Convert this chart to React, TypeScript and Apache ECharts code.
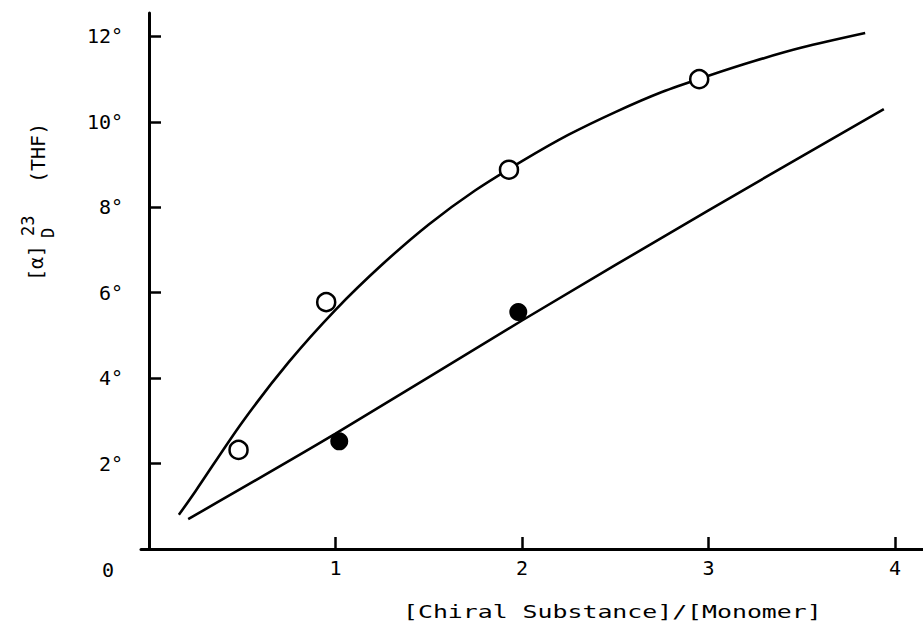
import React, { useEffect, useRef } from "react";
import * as echarts from "echarts";

// Open circles (measured points)
const openX = [0.48, 0.95, 1.93, 2.95];
const openY = [2.32, 5.78, 8.88, 11.0];
// Filled circles (measured points)
const filledX = [1.02, 1.98];
const filledY = [2.52, 5.55];
// Upper fitted curve
const upperCurveX = [0.16, 0.25, 0.5, 0.75, 1.0, 1.25, 1.5, 1.75, 2.0, 2.25, 2.5, 2.75, 3.0, 3.25, 3.5, 3.84];
const upperCurveY = [0.8, 1.36, 2.97, 4.38, 5.6, 6.66, 7.6, 8.4, 9.08, 9.7, 10.23, 10.7, 11.08, 11.43, 11.74, 12.08];
// Lower fitted line
const lowerCurveX = [0.21, 1.0, 2.0, 3.0, 3.94];
const lowerCurveY = [0.7, 2.7, 5.35, 7.93, 10.3];
// Axis ticks
const xTicks = [1, 2, 3, 4];
const yTicks = [2, 4, 6, 8, 10, 12];

const FONT = "'DejaVu Sans Mono', 'Liberation Mono', monospace";

const pairs = (xs: number[], ys: number[]) => xs.map((x, i) => [x, ys[i]]);

export default function App() {
  const ref = useRef<HTMLDivElement>(null);
  useEffect(() => {
    if (!ref.current) return;
    const chart = echarts.init(ref.current, null, { renderer: "svg" });
    chart.setOption({
      animation: false,
      backgroundColor: "#ffffff",
      grid: { left: 141, right: 0, top: 13, bottom: 85, containLabel: false },
      xAxis: {
        type: "value",
        min: -0.043,
        max: 4.15,
        axisLine: { show: true, lineStyle: { color: "#000", width: 3 } },
        axisTick: { show: true, inside: true, length: 12, lineStyle: { color: "#000", width: 2.5 }, customValues: xTicks },
        axisLabel: { customValues: xTicks, color: "#000", fontFamily: FONT, fontSize: 20, margin: 9 },
        splitLine: { show: false },
      },
      yAxis: {
        type: "value",
        min: 0,
        max: 12.55,
        axisLine: { show: true, lineStyle: { color: "#000", width: 3 } },
        axisTick: { show: true, inside: true, length: 12, lineStyle: { color: "#000", width: 2.5 }, customValues: yTicks },
        axisLabel: {
          customValues: yTicks,
          color: "#000",
          fontFamily: FONT,
          fontSize: 20,
          margin: 18,
          formatter: (v: number) => v + "°",
        },
        splitLine: { show: false },
      },
      graphic: [
        { type: "text", left: 102, top: 560, style: { text: "0", font: `20px ${FONT}`, fill: "#000" } },
        {
          type: "text",
          x: 403,
          y: 603,
          scaleX: 1.38,
          style: { text: "[Chiral Substance]/[Monomer]", font: `18px ${FONT}`, fill: "#000" },
        },
        {
          type: "group",
          x: 47,
          y: 281,
          rotation: Math.PI / 2,
          children: [
            { type: "text", x: 0, y: -11, style: { text: "[α]", font: `20px ${FONT}`, fill: "#000", verticalAlign: "middle", align: "left" } },
            { type: "text", x: 43, y: 1, style: { text: "D", font: `17px ${FONT}`, fill: "#000", verticalAlign: "middle", align: "left" } },
            { type: "text", x: 45, y: -19, style: { text: "23", font: `17px ${FONT}`, fill: "#000", verticalAlign: "middle", align: "left" } },
            { type: "text", x: 98, y: -9, style: { text: "(THF)", font: `20px ${FONT}`, fill: "#000", verticalAlign: "middle", align: "left" } },
          ],
        },
      ],
      series: [
        {
          type: "line",
          smooth: 0.3,
          symbol: "none",
          data: pairs(upperCurveX, upperCurveY),
          lineStyle: { color: "#000", width: 2.6 },
          z: 2,
        },
        {
          type: "line",
          smooth: 0.3,
          symbol: "none",
          data: pairs(lowerCurveX, lowerCurveY),
          lineStyle: { color: "#000", width: 2.6 },
          z: 2,
        },
        {
          type: "scatter",
          symbol: "circle",
          symbolSize: 18,
          data: pairs(openX, openY),
          itemStyle: { color: "#fff", borderColor: "#000", borderWidth: 2.5, opacity: 1 },
          z: 3,
        },
        {
          type: "scatter",
          symbol: "circle",
          symbolSize: 18,
          data: pairs(filledX, filledY),
          itemStyle: { color: "#000", opacity: 1 },
          z: 3,
        },
      ],
    });
    return () => chart.dispose();
  }, []);
  return <div ref={ref} style={{ position: "absolute", left: 0, top: 0, width: 923, height: 634 }} />;
}
